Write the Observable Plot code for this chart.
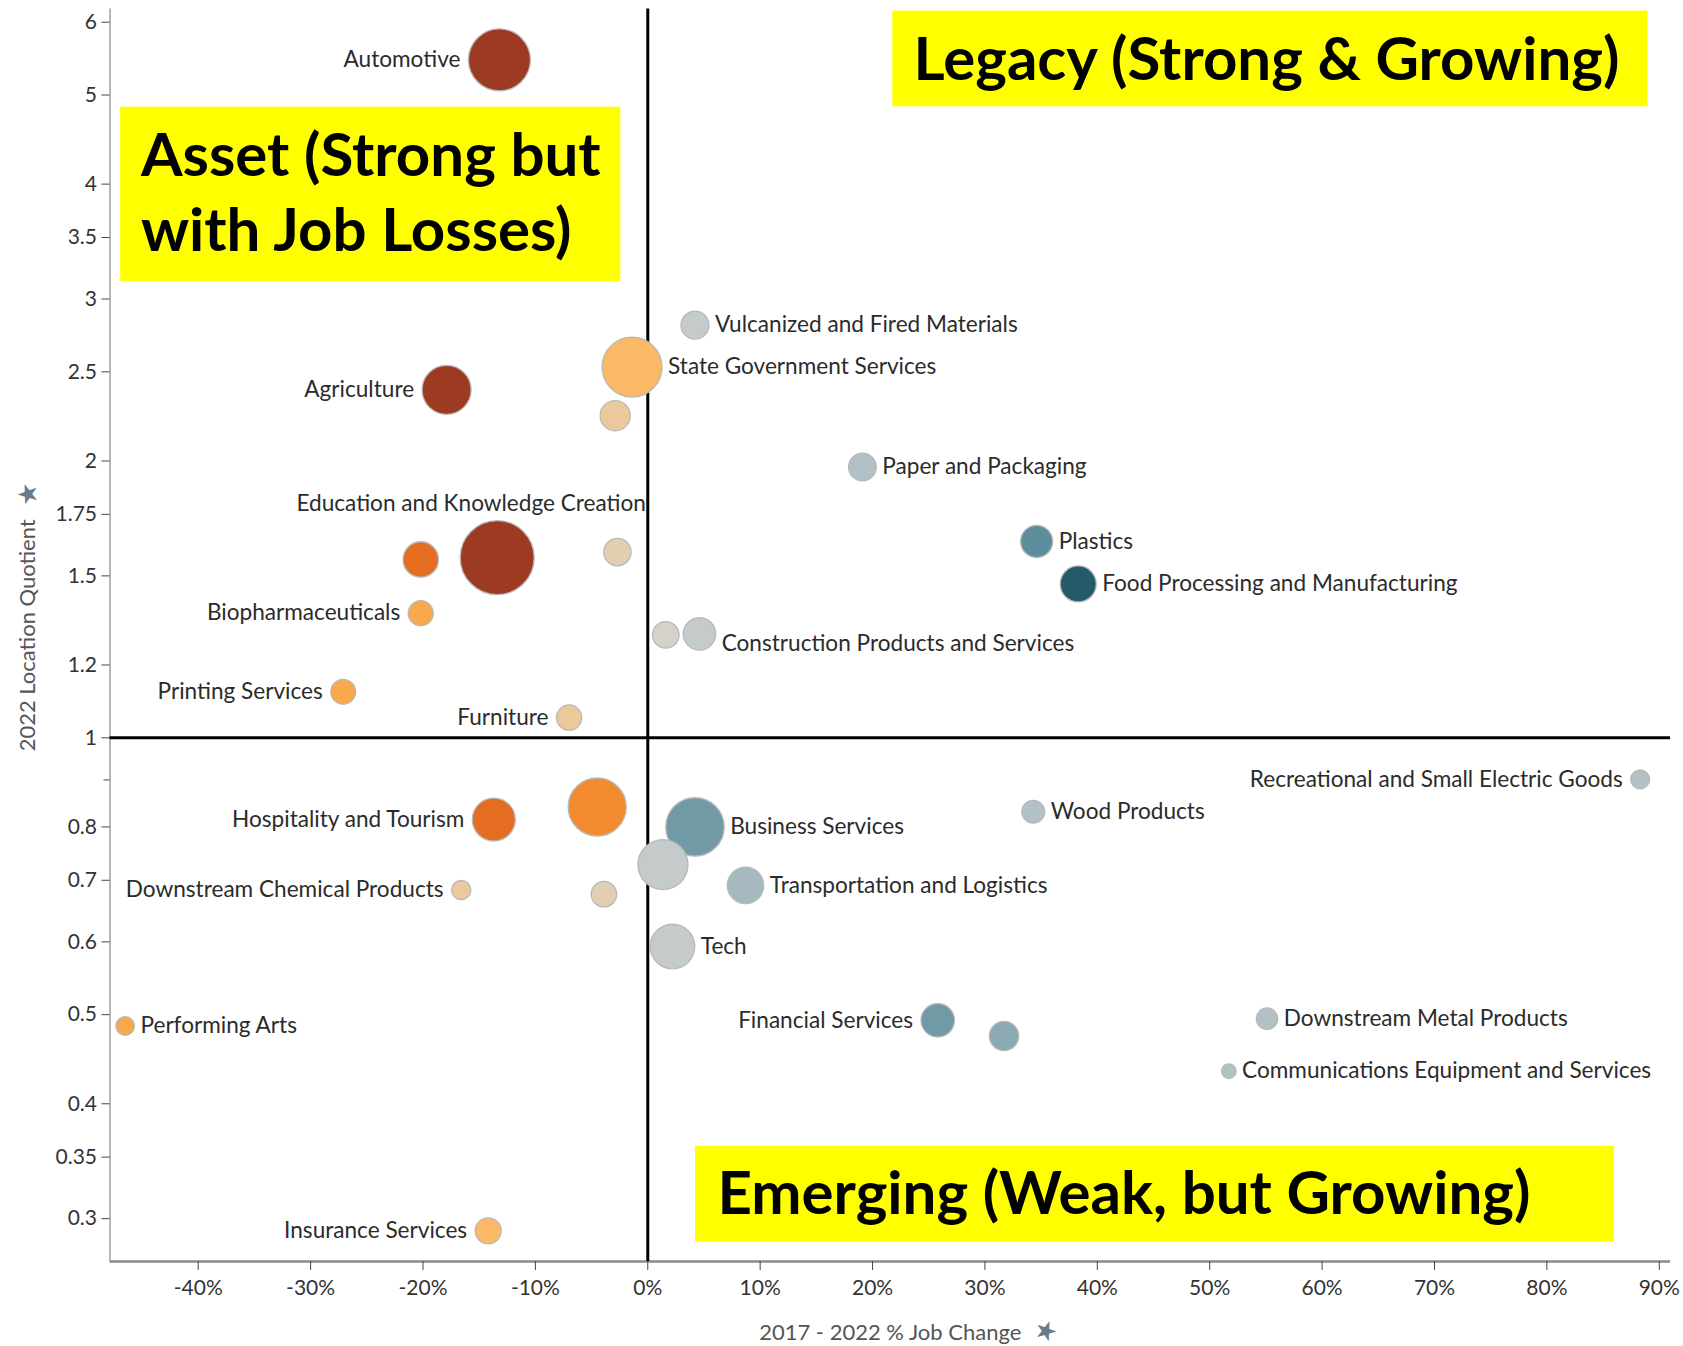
<!DOCTYPE html>
<html>
<head>
<meta charset="utf-8">
<script src="https://cdn.jsdelivr.net/npm/d3@7"></script>
<script src="https://cdn.jsdelivr.net/npm/@observablehq/plot@0.6"></script>
<style>
  html, body { margin: 0; padding: 0; background: #fff; }
  #chart { width: 1683px; height: 1346px; }
</style>
</head>
<body>
<div id="chart"></div>
<script>
// ---- Data ----
const clusters = [
  "Automotive", "Agriculture", "State Government Services", "", "Vulcanized and Fired Materials",
  "Paper and Packaging", "Plastics", "Food Processing and Manufacturing", "Education and Knowledge Creation", "",
  "", "Biopharmaceuticals", "", "Construction Products and Services", "Printing Services",
  "Furniture", "Recreational and Small Electric Goods", "Wood Products", "Hospitality and Tourism", "",
  "Business Services", "", "Transportation and Logistics", "Downstream Chemical Products", "",
  "Tech", "Financial Services", "", "Downstream Metal Products", "Communications Equipment and Services",
  "Performing Arts", "Insurance Services"
];
const jobChange = [
  -13.2, -17.9, -1.4, -2.9, 4.2,
  19.1, 34.6, 38.3, -13.4, -20.2,
  -2.7, -20.2, 1.6, 4.6, -27.1,
  -7.0, 88.3, 34.3, -13.7, -4.5,
  4.2, 1.35, 8.7, -16.6, -3.9,
  2.2, 25.8, 31.7, 55.1, 51.7,
  -46.5, -14.2
];
const locationQuotient = [
  5.46, 2.39, 2.53, 2.24, 2.81,
  1.97, 1.635, 1.47, 1.57, 1.563,
  1.592, 1.366, 1.294, 1.297, 1.122,
  1.052, 0.901, 0.831, 0.815, 0.841,
  0.80, 0.728, 0.691, 0.683, 0.676,
  0.593, 0.493, 0.474, 0.495, 0.434,
  0.486, 0.291
];
const employment = [
  34400, 21500, 32200, 8100, 7000,
  6900, 9200, 11600, 49000, 11200,
  6700, 5600, 6300, 9400, 5500,
  5700, 3200, 4700, 16500, 30100,
  30500, 22400, 11900, 3300, 5800,
  17800, 10000, 7700, 4100, 1900,
  3100, 6100
];
const shade = [
  "rust", "rust", "paleOrange", "tan", "gray",
  "mist", "deepTeal", "navy", "rust", "darkOrange",
  "beige", "lightOrange", "stone", "gray", "lightOrange",
  "tan", "mist", "mist", "darkOrange", "orange",
  "teal", "gray", "slate", "tan", "beige",
  "gray", "teal", "steel", "mist", "mist",
  "lightOrange", "paleOrange"
];
const xTicks = [-40, -30, -20, -10, 0, 10, 20, 30, 40, 50, 60, 70, 80, 90];
const yTicks = [0.3, 0.35, 0.4, 0.5, 0.6, 0.7, 0.8, 1, 1.2, 1.5, 1.75, 2, 2.5, 3, 3.5, 4, 5, 6];
const yTickLabels = ["0.3", "0.35", "0.4", "0.5", "0.6", "0.7", "0.8", "1", "1.2", "1.5", "1.75", "2", "2.5", "3", "3.5", "4", "5", "6"];
const yUnlabeledTicks = [0.9];

const quadrantTitles = ["Legacy (Strong & Growing)", "Asset (Strong but\nwith Job Losses)", "Emerging (Weak, but Growing)"];

// ---- Presentation config ----
const shadeKeys = ["rust", "darkOrange", "orange", "lightOrange", "paleOrange", "tan", "beige", "stone", "gray", "mist", "slate", "steel", "teal", "deepTeal", "navy"];
const shadeColors = ["#9c3b22", "#e56d22", "#f28a2f", "#f9a84c", "#fbb866", "#ebc99c", "#e2cfb2", "#d4d2ca", "#c5cbca", "#b1c1c6", "#a6b9c0", "#8aa9b3", "#7299a6", "#5e8d9b", "#255a6a"];
const leftLabeled = new Set(["Automotive", "Agriculture", "Biopharmaceuticals", "Printing Services", "Furniture",
  "Hospitality and Tourism", "Downstream Chemical Products", "Recreational and Small Electric Goods",
  "Financial Services", "Insurance Services"]);
const aboveLabeled = new Set(["Education and Knowledge Creation"]);
const labelNudge = {"Construction Products and Services": 10};

// quadrant boxes in data units: [x1, x2, y1, y2, textX, textY]
const quadrantBoxes = [
  [21.8, 89.0, 4.855, 6.17, 23.65, 5.51],
  [-46.9, -2.4, 3.135, 4.85, -45.1, 3.95],
  [4.25, 86.0, 0.2828, 0.3596, 6.2, 0.3224]
];

const xDomain = [-47.85, 91.0];
const yDomain = [0.2695, 6.2];
const rMax = 37, empMax = 49000;
const radius = v => rMax * Math.sqrt(v / empMax);
const labelSize = 22.6;

const rows = clusters.map((name, i) => ({
  name, x: jobChange[i], y: locationQuotient[i], emp: employment[i], shade: shade[i]
}));
const boxes = quadrantBoxes.map((b, i) => ({x1: b[0], x2: b[1], y1: b[2], y2: b[3], tx: b[4], ty: b[5], text: quadrantTitles[i]}));
const yTickRows = yTicks.map((v, i) => ({v, label: yTickLabels[i]}));

const labelMarks = rows.filter(d => d.name).map(d => {
  const r = radius(d.emp);
  if (aboveLabeled.has(d.name)) {
    return Plot.text([d], {x: "x", y: "y", text: "name", textAnchor: "middle", dx: -26, dy: -(r + 17), fill: "#2b2b2b", fontSize: labelSize});
  }
  const left = leftLabeled.has(d.name);
  return Plot.text([d], {
    x: "x", y: "y", text: "name",
    textAnchor: left ? "end" : "start",
    dx: left ? -(r + 8) : (r + 6),
    dy: labelNudge[d.name] || 0,
    fill: "#2b2b2b", fontSize: labelSize
  });
});

const chart = Plot.plot({
  width: 1683,
  height: 1346,
  marginLeft: 109.5,
  marginRight: 13,
  marginTop: 8.6,
  marginBottom: 85,
  style: {fontFamily: "Lato, 'Open Sans', sans-serif", fontSize: "21px", color: "#333", background: "#fff", overflow: "visible"},
  x: {domain: xDomain, axis: null},
  y: {type: "log", domain: yDomain, axis: null},
  r: {domain: [0, empMax], range: [0, rMax]},
  color: {domain: shadeKeys, range: shadeColors},
  marks: [
    Plot.rect(boxes, {x1: "x1", x2: "x2", y1: "y1", y2: "y2", fill: "#ffff00"}),
    Plot.text(boxes, {x: "tx", y: "ty", text: "text", textAnchor: "start", fontSize: 60, fontWeight: "bold", fill: "#000", lineHeight: 1.25}),
    Plot.ruleX([xDomain[0]], {stroke: "#b8b8b8", strokeWidth: 2}),
    Plot.ruleY([yDomain[0]], {stroke: "#8a8a8a", strokeWidth: 2.5}),
    Plot.ruleX([0], {stroke: "#000", strokeWidth: 3}),
    Plot.ruleY([1], {stroke: "#000", strokeWidth: 3}),
    Plot.axisX({ticks: xTicks, tickFormat: d => d + "%", tickSize: 9, tickPadding: 10, fontSize: 21, fill: "#333", stroke: "#444", label: null}),
    Plot.axisY({ticks: yTicks, tickFormat: () => "", tickSize: 8, stroke: "#444", label: null}),
    Plot.axisY({ticks: yUnlabeledTicks, tickFormat: () => "", tickSize: 6, stroke: "#444", label: null}),
    Plot.text(yTickRows, {y: "v", text: "label", frameAnchor: "left", textAnchor: "end", dx: -13, fontSize: 21, fill: "#333"}),
    Plot.dot(rows, {x: "x", y: "y", r: "emp", fill: "shade", stroke: "#b9b9b9", strokeWidth: 1.3, fillOpacity: 1}),
    ...labelMarks,
    Plot.text(["2017 - 2022 % Job Change"], {frameAnchor: "bottom", lineAnchor: "middle", dy: 71, fontSize: 22, fill: "#555"}),
    Plot.text(["★"], {frameAnchor: "bottom", lineAnchor: "middle", dx: 155, dy: 70, fontSize: 26, fill: "#6b7a8c", rotate: 20}),
    Plot.text(["2022 Location Quotient"], {frameAnchor: "left", textAnchor: "middle", lineAnchor: "middle", dx: -82, rotate: -90, fontSize: 22, fill: "#555"}),
    Plot.text(["★"], {frameAnchor: "left", textAnchor: "middle", lineAnchor: "middle", dx: -82, dy: -141, fontSize: 26, fill: "#6b7a8c", rotate: -20})
  ]
});
document.getElementById("chart").appendChild(chart);
</script>
</body>
</html>
